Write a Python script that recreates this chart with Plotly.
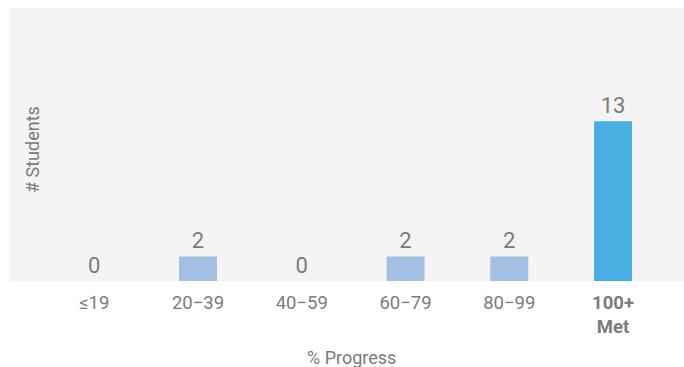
import plotly.graph_objects as go

# Progress bands and student counts
categories = ["≤19", "20–39", "40–59", "60–79", "80–99", "100+ Met"]
tick_labels = ["≤19", "20−39", "40−59", "60−79", "80−99", "<b>100+<br>Met</b>"]
students = [0, 2, 0, 2, 2, 13]

light_blue = "#a3bfe4"
met_blue = "#47afe1"
bar_colors = [light_blue] * 5 + [met_blue]
text_gray = "#7b7b7b"

fig = go.Figure(
    go.Bar(
        x=list(range(len(categories))),
        y=students,
        width=0.366,
        marker=dict(color=bar_colors, line=dict(width=0)),
        text=[str(v) for v in students],
        textposition="outside",
        constraintext="none",
        cliponaxis=False,
        textfont=dict(family="Roboto", size=22, color=text_gray),
        hoverinfo="skip",
    )
)

fig.update_layout(
    width=684,
    height=367,
    margin=dict(l=10, r=0, t=8, b=86),
    paper_bgcolor="white",
    plot_bgcolor="#f5f3f4",
    font=dict(family="Roboto", color=text_gray),
    showlegend=False,
    xaxis=dict(
        range=[-0.812, 5.684],
        tickmode="array",
        tickvals=list(range(len(categories))),
        ticktext=tick_labels,
        tickfont=dict(family="Roboto", size=18.5, color=text_gray),
        ticklabelstandoff=8,
        showgrid=False,
        zeroline=False,
        showline=False,
        ticks="",
        fixedrange=True,
    ),
    yaxis=dict(
        range=[0, 22.2],
        showticklabels=False,
        showgrid=False,
        zeroline=False,
        showline=False,
        ticks="",
        fixedrange=True,
    ),
    annotations=[
        dict(
            text="# Students",
            textangle=-90,
            xref="paper", yref="paper",
            x=(33 - 10) / 674, y=(281 - 150) / 273,
            xanchor="center", yanchor="middle",
            showarrow=False,
            font=dict(family="Roboto", size=18, color=text_gray),
        ),
        dict(
            text="% Progress",
            xref="paper", yref="paper",
            x=(351 - 10) / 674, y=-(357 - 281) / 273,
            xanchor="center", yanchor="middle",
            showarrow=False,
            font=dict(family="Roboto", size=18, color=text_gray),
        ),
    ],
)

fig.write_html("out.html")
